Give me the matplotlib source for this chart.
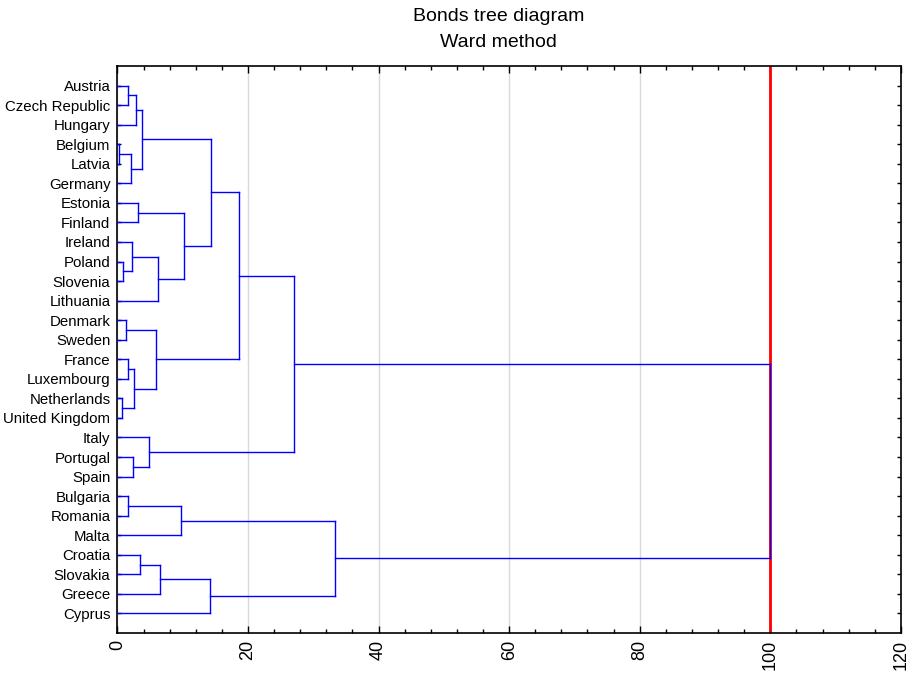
import matplotlib
matplotlib.use("Agg")
import matplotlib.pyplot as plt
from matplotlib.ticker import MultipleLocator

plt.rcParams['font.family'] = ['Liberation Sans', 'DejaVu Sans']

# Leaves, top to bottom
countries = ["Austria", "Czech Republic", "Hungary", "Belgium", "Latvia", "Germany",
             "Estonia", "Finland", "Ireland", "Poland", "Slovenia", "Lithuania",
             "Denmark", "Sweden", "France", "Luxembourg", "Netherlands", "United Kingdom",
             "Italy", "Portugal", "Spain", "Bulgaria", "Romania", "Malta",
             "Croatia", "Slovakia", "Greece", "Cyprus"]

# Linkage: (child a, child b); indices < n are leaves, >= n are earlier merges
merge_a = [0, 28, 3, 30, 29, 6, 9, 8, 35, 33, 32, 12, 14, 16, 40, 39, 38, 19, 18, 44, 21, 48, 24, 50, 51, 49, 47]
merge_b = [1, 2, 4, 5, 31, 7, 10, 34, 11, 36, 37, 13, 15, 17, 41, 42, 43, 20, 45, 46, 22, 23, 25, 26, 27, 52, 53]
merge_dist = [1.66, 2.83, 0.23, 2.07, 3.8, 3.2, 0.84, 2.27, 6.25, 10.2, 14.4, 1.25, 1.66, 0.69,
              2.53, 5.85, 18.6, 2.37, 4.87, 27.0, 1.66, 9.72, 3.5, 6.46, 14.2, 33.3, 100.0]

cut_level = 100
x_ticks = [0, 20, 40, 60, 80, 100, 120]

fig = plt.figure(figsize=(9.1, 6.76), dpi=100)
ax = fig.add_axes([0.129, 0.0636, 0.861, 0.8388])

n = len(countries)
pos = {i: float(i) for i in range(n)}
hgt = {i: 0.0 for i in range(n)}
blue = "#0000ff"

ax.axvline(cut_level, color="#ff0000", lw=2, zorder=2)

for k, (a, b, d) in enumerate(zip(merge_a, merge_b, merge_dist)):
    ya, yb = pos[a], pos[b]
    ax.plot([hgt[a], d], [ya, ya], color=blue, lw=1, zorder=3)
    ax.plot([hgt[b], d], [yb, yb], color=blue, lw=1, zorder=3)
    ax.plot([d, d], [ya, yb], color=blue, lw=1, zorder=3)
    pos[n + k] = (ya + yb) / 2
    hgt[n + k] = d

ax.set_xlim(0, 120)
ax.set_ylim(n, -1)
ax.set_yticks(range(n))
ax.set_yticklabels(countries, fontsize=10.8)
ax.set_xticks(x_ticks)
ax.set_xticklabels([str(v) for v in x_ticks], rotation=90, fontsize=13)
ax.xaxis.set_minor_locator(MultipleLocator(4))
ax.grid(axis="x", which="major", color="#d9d9d9", lw=1, zorder=0)
ax.set_axisbelow(True)
ax.tick_params(axis="both", which="both", direction="in", top=True, right=True, color="black")
ax.tick_params(axis="x", which="major", length=5, width=1, pad=5)
ax.tick_params(axis="x", which="minor", length=3, width=1)
ax.tick_params(axis="y", which="major", length=3, width=1, pad=5)
for s in ax.spines.values():
    s.set_linewidth(1.2)

fig.text(0.548, 0.975, "Bonds tree diagram", ha="center", va="center", fontsize=14)
fig.text(0.548, 0.937, "Ward method", ha="center", va="center", fontsize=14)

fig.savefig("out.png", dpi=100)
